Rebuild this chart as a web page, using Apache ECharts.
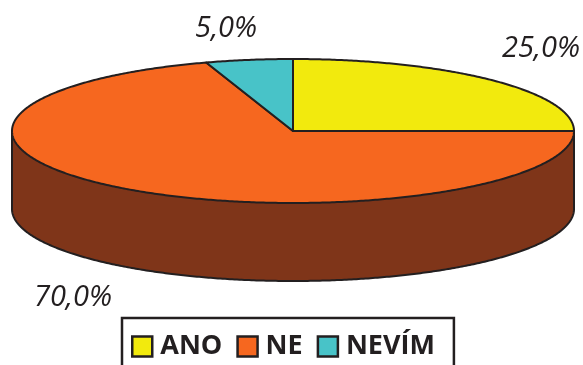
<!DOCTYPE html>
<html>
<head>
<meta charset="utf-8">
<style>html,body{margin:0;padding:0;background:#fff}#chart{width:583px;height:365px}</style>
<script src="https://cdn.jsdelivr.net/npm/echarts@6/dist/echarts.min.js"></script>
</head>
<body>
<div id="chart"></div>
<script>
// Survey answers, share of respondents in percent
const categories = ['ANO', 'NE', 'NEVÍM'];
const shares = [25, 70, 5];
const topColors = ['#f2ea0d', '#f6671f', '#48c3c8'];
const wallColors = ['#a39c08', '#7f3519', '#2f8588'];

// Where each percentage label is centred
const labelAnchors = [[541, 49], [73, 298], [226, 29]];

// Ellipse and thickness of the disc
const CX = 293, CY = 131, RX = 281, RY = 72, DEPTH = 78;
const INK = '#231f20';
const TOTAL = shares.reduce((a, b) => a + b, 0);

// Angle is measured clockwise from twelve o'clock, in degrees
function rimPoint(deg, drop) {
  const r = deg * Math.PI / 180;
  return [CX + RX * Math.sin(r), CY - RY * Math.cos(r) + (drop || 0)];
}
function arc(from, to, drop) {
  const pts = [];
  const steps = Math.max(2, Math.ceil(Math.abs(to - from) * 2));
  for (let i = 0; i <= steps; i++) pts.push(rimPoint(from + (to - from) * i / steps, drop));
  return pts;
}
function formatShare(v) {
  return v.toFixed(1).replace('.', ',') + '%';
}

function sliceRenderer(index) {
  return function (params, api) {
    const value = api.value(0);
    let before = 0;
    for (let i = 0; i < index; i++) before += shares[i];
    const start = before / TOTAL * 360;
    const end = start + value / TOTAL * 360;
    const children = [];

    // The wall only shows along the front half of the rim
    const wallFrom = Math.max(start, 90), wallTo = Math.min(end, 270);
    if (wallTo > wallFrom) {
      const upper = arc(wallFrom, wallTo, 0);
      const lower = arc(wallFrom, wallTo, DEPTH);
      children.push({
        type: 'polygon',
        shape: { points: upper.concat(lower.slice().reverse()) },
        style: { fill: wallColors[index], stroke: 'none' }
      });
      children.push({
        type: 'polyline',
        shape: { points: [upper[0]].concat(lower, [upper[upper.length - 1]]) },
        style: { fill: 'none', stroke: INK, lineWidth: 2 }
      });
    }

    children.push({
      type: 'polygon',
      shape: { points: [[CX, CY]].concat(arc(start, end, 0)) },
      style: { fill: topColors[index], stroke: INK, lineWidth: 2, lineJoin: 'round' }
    });

    children.push({
      type: 'text',
      style: {
        text: formatShare(value),
        x: labelAnchors[index][0],
        y: labelAnchors[index][1],
        align: 'center',
        verticalAlign: 'middle',
        fill: INK,
        font: 'italic 29px "Open Sans"'
      }
    });
    return { type: 'group', children: children };
  };
}

const chart = echarts.init(document.getElementById('chart'), null, { renderer: 'canvas' });
chart.setOption({
  animation: false,
  tooltip: { show: false },
  legend: {
    data: categories,
    left: 122,
    top: 318,
    orient: 'horizontal',
    icon: 'rect',
    itemWidth: 20,
    itemHeight: 20,
    itemGap: 14,
    padding: [15, 19, 12, 9],
    selectedMode: false,
    backgroundColor: '#fff',
    borderColor: INK,
    borderWidth: 2.5,
    itemStyle: { borderColor: INK, borderWidth: 2.5 },
    textStyle: {
      color: INK,
      fontFamily: 'Open Sans',
      fontWeight: 'bold',
      fontSize: 27,
      padding: [0, 0, 0, 3]
    }
  },
  series: categories.map((name, i) => ({
    type: 'custom',
    name: name,
    coordinateSystem: 'none',
    itemStyle: { color: topColors[i] },
    data: [[shares[i]]],
    renderItem: sliceRenderer(i)
  }))
});
</script>
</body>
</html>
